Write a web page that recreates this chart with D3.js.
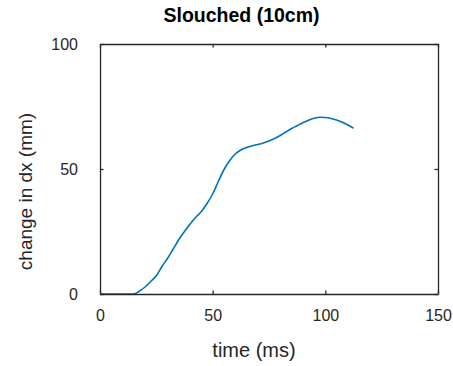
<!DOCTYPE html>
<html>
<head>
<meta charset="utf-8">
<script src="https://cdn.jsdelivr.net/npm/d3@7"></script>
<style>
  html, body { margin: 0; padding: 0; background: #fff; }
  svg { display: block; }
  text { font-family: "Liberation Sans", Arial, Helvetica, sans-serif; }
</style>
</head>
<body>
<script>
// Displacement change over time, slouched posture at 10 cm
const timeMs = [0, 5, 10, 15, 17.5, 20, 22.5, 25, 27.5, 30, 32.5, 35, 37.5, 40, 42.5, 45, 47.5, 50,
  52.5, 55, 57.5, 60, 62.5, 65, 67.5, 70, 72.5, 75, 77.5, 80, 82.5, 85, 87.5, 90, 92.5, 95,
  97.5, 100, 102.5, 105, 107.5, 110, 112.5];
const changeDx = [0, 0, 0, 0, 1.2, 2.8, 5, 7.3, 11, 14.3, 18, 21.8, 25, 28, 30.7, 33, 36.2, 40,
  45, 49.7, 53.3, 56, 57.6, 58.6, 59.3, 59.8, 60.4, 61.2, 62.2, 63.4, 64.8, 66.2, 67.3, 68.5, 69.5, 70.3,
  70.7, 70.6, 70.2, 69.6, 68.7, 67.6, 66.3];
const xTicks = [0, 50, 100, 150];
const yTicks = [0, 50, 100];
const titleText = "Slouched (10cm)";
const xLabel = "time (ms)";
const yLabel = "change in dx (mm)";

const W = 453, H = 366;
const m = { left: 100, right: 15, top: 44, bottom: 72 };
const iw = W - m.left - m.right, ih = H - m.top - m.bottom;
const axisColor = "#262626";

const svg = d3.select("body").append("svg").attr("width", W).attr("height", H);

const x = d3.scaleLinear().domain([0, 150]).range([0, iw]);
const y = d3.scaleLinear().domain([0, 100]).range([ih, 0]);

const g = svg.append("g").attr("transform", `translate(${m.left},${m.top})`);

// data line
const line = d3.line().x((d, i) => x(timeMs[i])).y(d => y(d)).curve(d3.curveMonotoneX);
g.append("path").datum(changeDx)
  .attr("fill", "none").attr("stroke", "#0072BD").attr("stroke-width", 1.6)
  .attr("stroke-linejoin", "round").attr("d", line);

// box axes with inward ticks on all four sides
const tl = -3.5;
function styleAxis(sel) {
  sel.select(".domain").attr("stroke", axisColor).attr("stroke-width", 1.3);
  sel.selectAll(".tick line").attr("stroke", axisColor).attr("stroke-width", 1.3);
  sel.selectAll(".tick text").attr("fill", axisColor).attr("font-size", "16px");
}
const bottomAx = g.append("g").attr("transform", `translate(0,${ih})`)
  .call(d3.axisBottom(x).tickValues(xTicks).tickSizeInner(tl).tickSizeOuter(0).tickPadding(16));
styleAxis(bottomAx);
const topAx = g.append("g")
  .call(d3.axisTop(x).tickValues(xTicks).tickSizeInner(tl).tickSizeOuter(0).tickFormat(""));
styleAxis(topAx);
const leftAx = g.append("g")
  .call(d3.axisLeft(y).tickValues(yTicks).tickSizeInner(tl).tickSizeOuter(0).tickPadding(22));
styleAxis(leftAx);
const rightAx = g.append("g").attr("transform", `translate(${iw},0)`)
  .call(d3.axisRight(y).tickValues(yTicks).tickSizeInner(tl).tickSizeOuter(0).tickFormat(""));
styleAxis(rightAx);

// title and axis labels
svg.append("text").attr("x", 241.5).attr("y", 22)
  .attr("text-anchor", "middle").attr("font-weight", "bold").attr("font-size", "19.5px")
  .attr("fill", "#000").text(titleText);
svg.append("text").attr("x", 254).attr("y", 356.5)
  .attr("text-anchor", "middle").attr("font-size", "20px")
  .attr("fill", axisColor).text(xLabel);
svg.append("text").attr("transform", `translate(32,191.5) rotate(-90)`)
  .attr("text-anchor", "middle").attr("font-size", "19px")
  .attr("fill", axisColor).text(yLabel);
</script>
</body>
</html>
